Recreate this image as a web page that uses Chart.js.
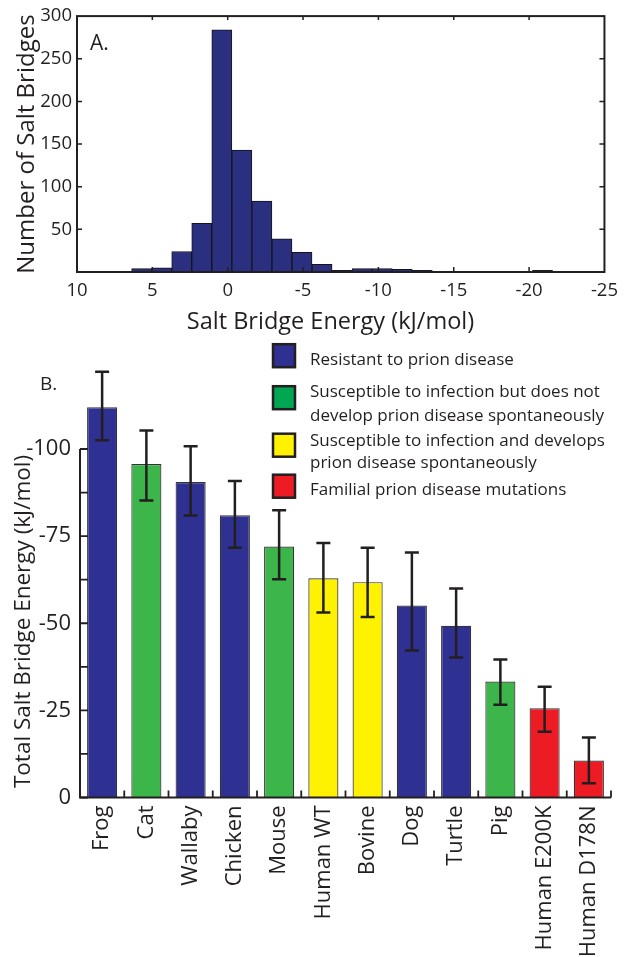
<!DOCTYPE html>
<html><head><meta charset="utf-8">
<script src="https://cdn.jsdelivr.net/npm/chart.js@4.4.1/dist/chart.umd.min.js"></script>
<style>
html,body{margin:0;padding:0;background:#fff;}
#wrap{position:relative;width:626px;height:957px;overflow:hidden;}
canvas{position:absolute;left:0;}
#cA{top:0;} #cB{top:340px;}
</style></head><body>
<div id="wrap"><canvas id="cA" width="626" height="340"></canvas><canvas id="cB" width="626" height="617"></canvas></div>
<script>
// ---------- Panel A data (histogram) ----------
const histBinCenters = [5.71, 4.38, 3.05, 1.72, 0.39, -0.94, -2.27, -3.60, -4.93, -6.26, -7.59,
                        -8.92, -10.25, -11.58, -12.91, -14.24, -15.57, -16.90, -18.23, -19.56, -20.89];
const histCounts = [4, 5, 24, 57, 284, 143, 83, 39, 23, 9, 2, 4, 4, 3, 2, 0, 0, 0, 0, 0, 2];
const histXTitle = 'Salt Bridge Energy (kJ/mol)';
const histYTitle = 'Number of Salt Bridges';

// ---------- Panel B data (bars with error bars) ----------
const species = ['Frog', 'Cat', 'Wallaby', 'Chicken', 'Mouse', 'Human WT', 'Bovine', 'Dog',
                 'Turtle', 'Pig', 'Human E200K', 'Human D178N'];
const totalEnergy = [-112.0, -95.7, -90.5, -81.0, -72.0, -62.9, -61.8, -55.1, -49.3, -33.3, -25.6, -10.6];
const errTop =      [-122.2, -105.3, -100.8, -90.8, -82.4, -73.0, -71.7, -70.3, -60.0, -39.6, -31.8, -17.2];
const errBottom =   [-102.5, -85.2, -80.9, -71.7, -62.6, -53.1, -51.8, -42.2, -40.2, -26.6, -18.9, -4.1];
const speciesGroup = [0, 1, 0, 0, 1, 2, 2, 0, 0, 1, 3, 3];
const groupLabels = [
  ['Resistant to prion disease'],
  ['Susceptible to infection but does not', 'develop prion disease spontaneously'],
  ['Susceptible to infection and develops', 'prion disease spontaneously'],
  ['Familial prion disease mutations']
];
const barYTitle = 'Total Salt Bridge Energy (kJ/mol)';

// ---------- styles ----------
const FONT = '"Open Sans", sans-serif';
const INK = '#231f20';
const barColors = ['#2e3192', '#3cb54a', '#fff200', '#ed1c24'];
const legendColors = ['#2e3192', '#00a651', '#fff200', '#ed1c24'];

// ---------- Panel A ----------
const boxPlugin = {
  id: 'boxA',
  beforeDraw(chart) {
    const ctx = chart.ctx, a = chart.chartArea;
    ctx.save();
    ctx.fillStyle = INK;
    ctx.font = '21px ' + FONT;
    ctx.textAlign = 'left'; ctx.textBaseline = 'alphabetic';
    ctx.fillText('A.', 90, 50);
    ctx.font = '23.5px ' + FONT;
    ctx.textAlign = 'center';
    ctx.fillText(histXTitle, 330.5, 329);
    ctx.translate(34, (a.top + a.bottom) / 2);
    ctx.rotate(-Math.PI / 2);
    ctx.font = '24px ' + FONT;
    ctx.fillText(histYTitle, 0, 0);
    ctx.restore();
  },
  afterDatasetsDraw(chart) {
    const ctx = chart.ctx, a = chart.chartArea;
    ctx.save();
    ctx.strokeStyle = INK;
    ctx.lineWidth = 2;
    ctx.strokeRect(a.left, a.top, a.right - a.left, a.bottom - a.top);
    ctx.lineWidth = 1.5;
    ctx.beginPath();
    chart.scales.y.ticks.forEach(t => {
      if (t.value <= 0 || t.value >= 300) return;
      const py = chart.scales.y.getPixelForValue(t.value);
      ctx.moveTo(a.left, py); ctx.lineTo(a.left + 5, py);
      ctx.moveTo(a.right, py); ctx.lineTo(a.right - 5, py);
    });
    chart.scales.x.ticks.forEach(t => {
      const px = chart.scales.x.getPixelForValue(t.value);
      if (px <= a.left + 1 || px >= a.right - 1) return;
      ctx.moveTo(px, a.bottom); ctx.lineTo(px, a.bottom - 5);
      ctx.moveTo(px, a.top); ctx.lineTo(px, a.top + 4);
    });
    ctx.stroke();
    ctx.restore();
  }
};

new Chart(document.getElementById('cA'), {
  type: 'bar',
  data: {
    datasets: [{
      data: histBinCenters.map((c, i) => ({ x: c, y: histCounts[i] })),
      backgroundColor: '#2b2f80',
      borderColor: '#151515',
      borderWidth: 1,
      barPercentage: 1,
      categoryPercentage: 1
    }]
  },
  options: {
    responsive: false,
    animation: false,
    devicePixelRatio: 1,
    layout: { padding: { top: 16, right: 4, left: 0, bottom: 0 } },
    plugins: { legend: { display: false }, tooltip: { enabled: false } },
    scales: {
      x: {
        type: 'linear', reverse: true, min: -25, max: 10, offset: false,
        grid: { display: false, drawTicks: false }, border: { display: false },
        ticks: { stepSize: 5, maxRotation: 0, autoSkip: false, padding: 8,
                 color: INK, font: { family: FONT, size: 18.5 } },
        afterFit: s => { s.height = 68; }
      },
      y: {
        min: 0, max: 300,
        grid: { display: false, drawTicks: false }, border: { display: false },
        ticks: { stepSize: 50, padding: 5, color: INK, font: { family: FONT, size: 18.5 },
                 callback: v => (v === 0 ? '' : String(v)) },
        afterFit: s => { s.width = 77; }
      }
    }
  },
  plugins: [boxPlugin]
});

// ---------- Panel B ----------
const axesBPlugin = {
  id: 'axesB',
  beforeDraw(chart) {
    const ctx = chart.ctx;
    ctx.save();
    ctx.fillStyle = INK;
    ctx.textBaseline = 'alphabetic';
    ctx.font = '19px ' + FONT;
    ctx.textAlign = 'left';
    ctx.fillText('B.', 40, 50);
    ctx.translate(29.5, 281.5);
    ctx.rotate(-Math.PI / 2);
    ctx.font = '22.5px ' + FONT;
    ctx.textAlign = 'center';
    ctx.fillText(barYTitle, 0, 0);
    ctx.restore();
  },
  afterDatasetsDraw(chart) {
    const ctx = chart.ctx, a = chart.chartArea, xs = chart.scales.x, ys = chart.scales.y;
    const y0 = ys.getPixelForValue(0), yTop = ys.getPixelForValue(-100);
    ctx.save();
    ctx.strokeStyle = INK;
    ctx.lineWidth = 2;
    ctx.beginPath();
    ctx.moveTo(a.left, yTop); ctx.lineTo(a.left, y0); ctx.lineTo(a.right, y0);
    ctx.stroke();
    ctx.lineWidth = 1.8;
    ctx.beginPath();
    ys.ticks.forEach(t => {
      const py = ys.getPixelForValue(t.value);
      ctx.moveTo(a.left, py); ctx.lineTo(a.left + 8, py);
    });
    for (let i = 0; i <= species.length; i++) {
      const px = xs.getPixelForValue(i - 0.5);
      ctx.moveTo(px, y0); ctx.lineTo(px, y0 - 7);
    }
    ctx.stroke();
    // error bars
    const meta = chart.getDatasetMeta(0);
    ctx.lineWidth = 2.5;
    ctx.beginPath();
    meta.data.forEach((bar, i) => {
      const x = bar.x;
      const p1 = ys.getPixelForValue(errTop[i]);
      const p2 = ys.getPixelForValue(errBottom[i]);
      ctx.moveTo(x, p1); ctx.lineTo(x, p2);
      ctx.moveTo(x - 7, p1); ctx.lineTo(x + 7, p1);
      ctx.moveTo(x - 7, p2); ctx.lineTo(x + 7, p2);
    });
    ctx.stroke();
    // legend
    const swY = [3, 45, 92.5, 133.5];
    const baselines = [[24.7], [57.3, 81.3], [106.3, 128], [154.7]];
    ctx.font = '17px ' + FONT;
    ctx.textAlign = 'left'; ctx.textBaseline = 'alphabetic';
    groupLabels.forEach((lines, g) => {
      ctx.fillStyle = legendColors[g];
      ctx.fillRect(273, swY[g] + 1.2, 22, 23);
      ctx.strokeStyle = INK; ctx.lineWidth = 2.5;
      ctx.strokeRect(273, swY[g] + 1.2, 22, 23);
      ctx.fillStyle = INK;
      lines.forEach((ln, k) => ctx.fillText(ln, 310, baselines[g][k]));
    });
    ctx.restore();
  }
};

new Chart(document.getElementById('cB'), {
  type: 'bar',
  data: {
    labels: species,
    datasets: [{
      data: totalEnergy,
      backgroundColor: speciesGroup.map(g => barColors[g]),
      borderColor: '#333333',
      borderWidth: 1.2,
      barPercentage: 0.68,
      categoryPercentage: 1,
      clip: false
    }]
  },
  options: {
    responsive: false,
    animation: false,
    devicePixelRatio: 1,
    layout: { padding: { top: 109, right: 15, left: 0, bottom: 0 } },
    plugins: { legend: { display: false }, tooltip: { enabled: false } },
    scales: {
      x: {
        grid: { display: false, drawTicks: false }, border: { display: false },
        ticks: { minRotation: 90, maxRotation: 90, autoSkip: false, padding: 8,
                 color: INK, font: { family: FONT, size: 22 } },
        afterFit: s => { s.height = 159.5; }
      },
      y: {
        reverse: true, min: -100, max: 0,
        grid: { display: false, drawTicks: false }, border: { display: false },
        ticks: { stepSize: 12.5, padding: 9, color: INK, font: { family: FONT, size: 22 },
                 callback: v => (v % 25 === 0 ? String(v) : '') },
        afterFit: s => { s.width = 80; }
      }
    }
  },
  plugins: [axesBPlugin]
});
</script>
</body></html>
